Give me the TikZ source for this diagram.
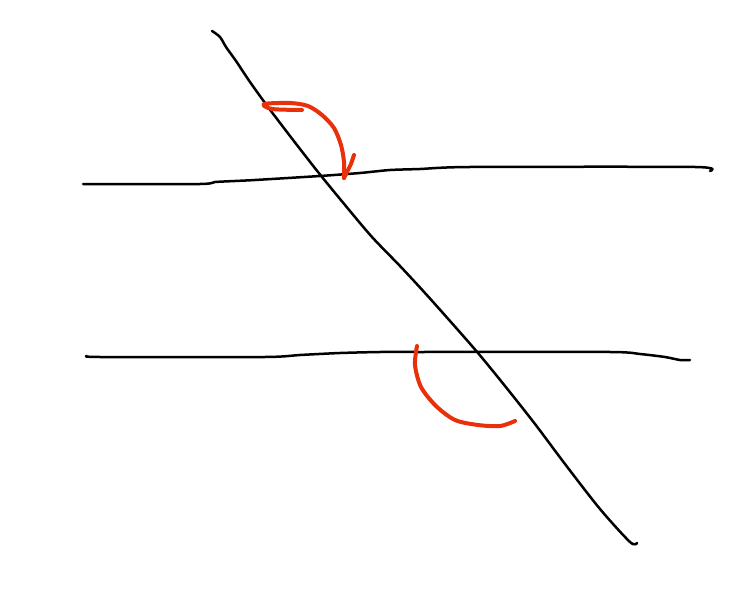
\documentclass[tikz,border=0pt]{standalone}
\begin{document}
\begin{tikzpicture}[x=1pt,y=-1pt,
  pen/.style={draw=black,line width=2.5pt,line cap=round,line join=round},
  marker/.style={draw=redink,line width=4pt,line cap=round,line join=round}]
\definecolor{redink}{HTML}{E8300A}
\useasboundingbox[fill=white] (0,0) rectangle (750,591);
% transversal
\draw[pen] plot[smooth,tension=0.5] coordinates {(212,31) (220,37) (226,47) (236,61) (250,82) (268,107) (290,136) (318,172) (345,205) (372,237) (400,266) (425,293) (450,321) (478,353) (505,386) (535,424) (565,464) (600,509) (630,542) (637,543)};
% upper line
\draw[pen] plot[smooth,tension=0.4] coordinates {(83,184) (200,184) (215,182) (235,181) (255,180) (320,176) (360,173) (390,170) (420,169) (470,167) (695,167) (710,171)};
% lower line
\draw[pen] plot[smooth,tension=0.4] coordinates {(87,356) (100,357) (265,357) (300,355) (340,353) (380,352) (420,352) (610,352) (640,354) (665,357) (680,360) (690,360)};
% upper red arrow
\draw[marker] plot[smooth,tension=0.5] coordinates {(302,110) (272,109) (264,104) (290,103) (308,106) (322,115) (334,128) (341,145) (344,162) (344,178)};
\draw[marker] (344,178) -- (351,164) -- (354,155);
% lower red arc
\draw[marker] plot[smooth,tension=0.5] coordinates {(417,346) (415,365) (421,387) (436,406) (455,420) (478,425) (500,426) (515,421)};
\end{tikzpicture}
\end{document}
